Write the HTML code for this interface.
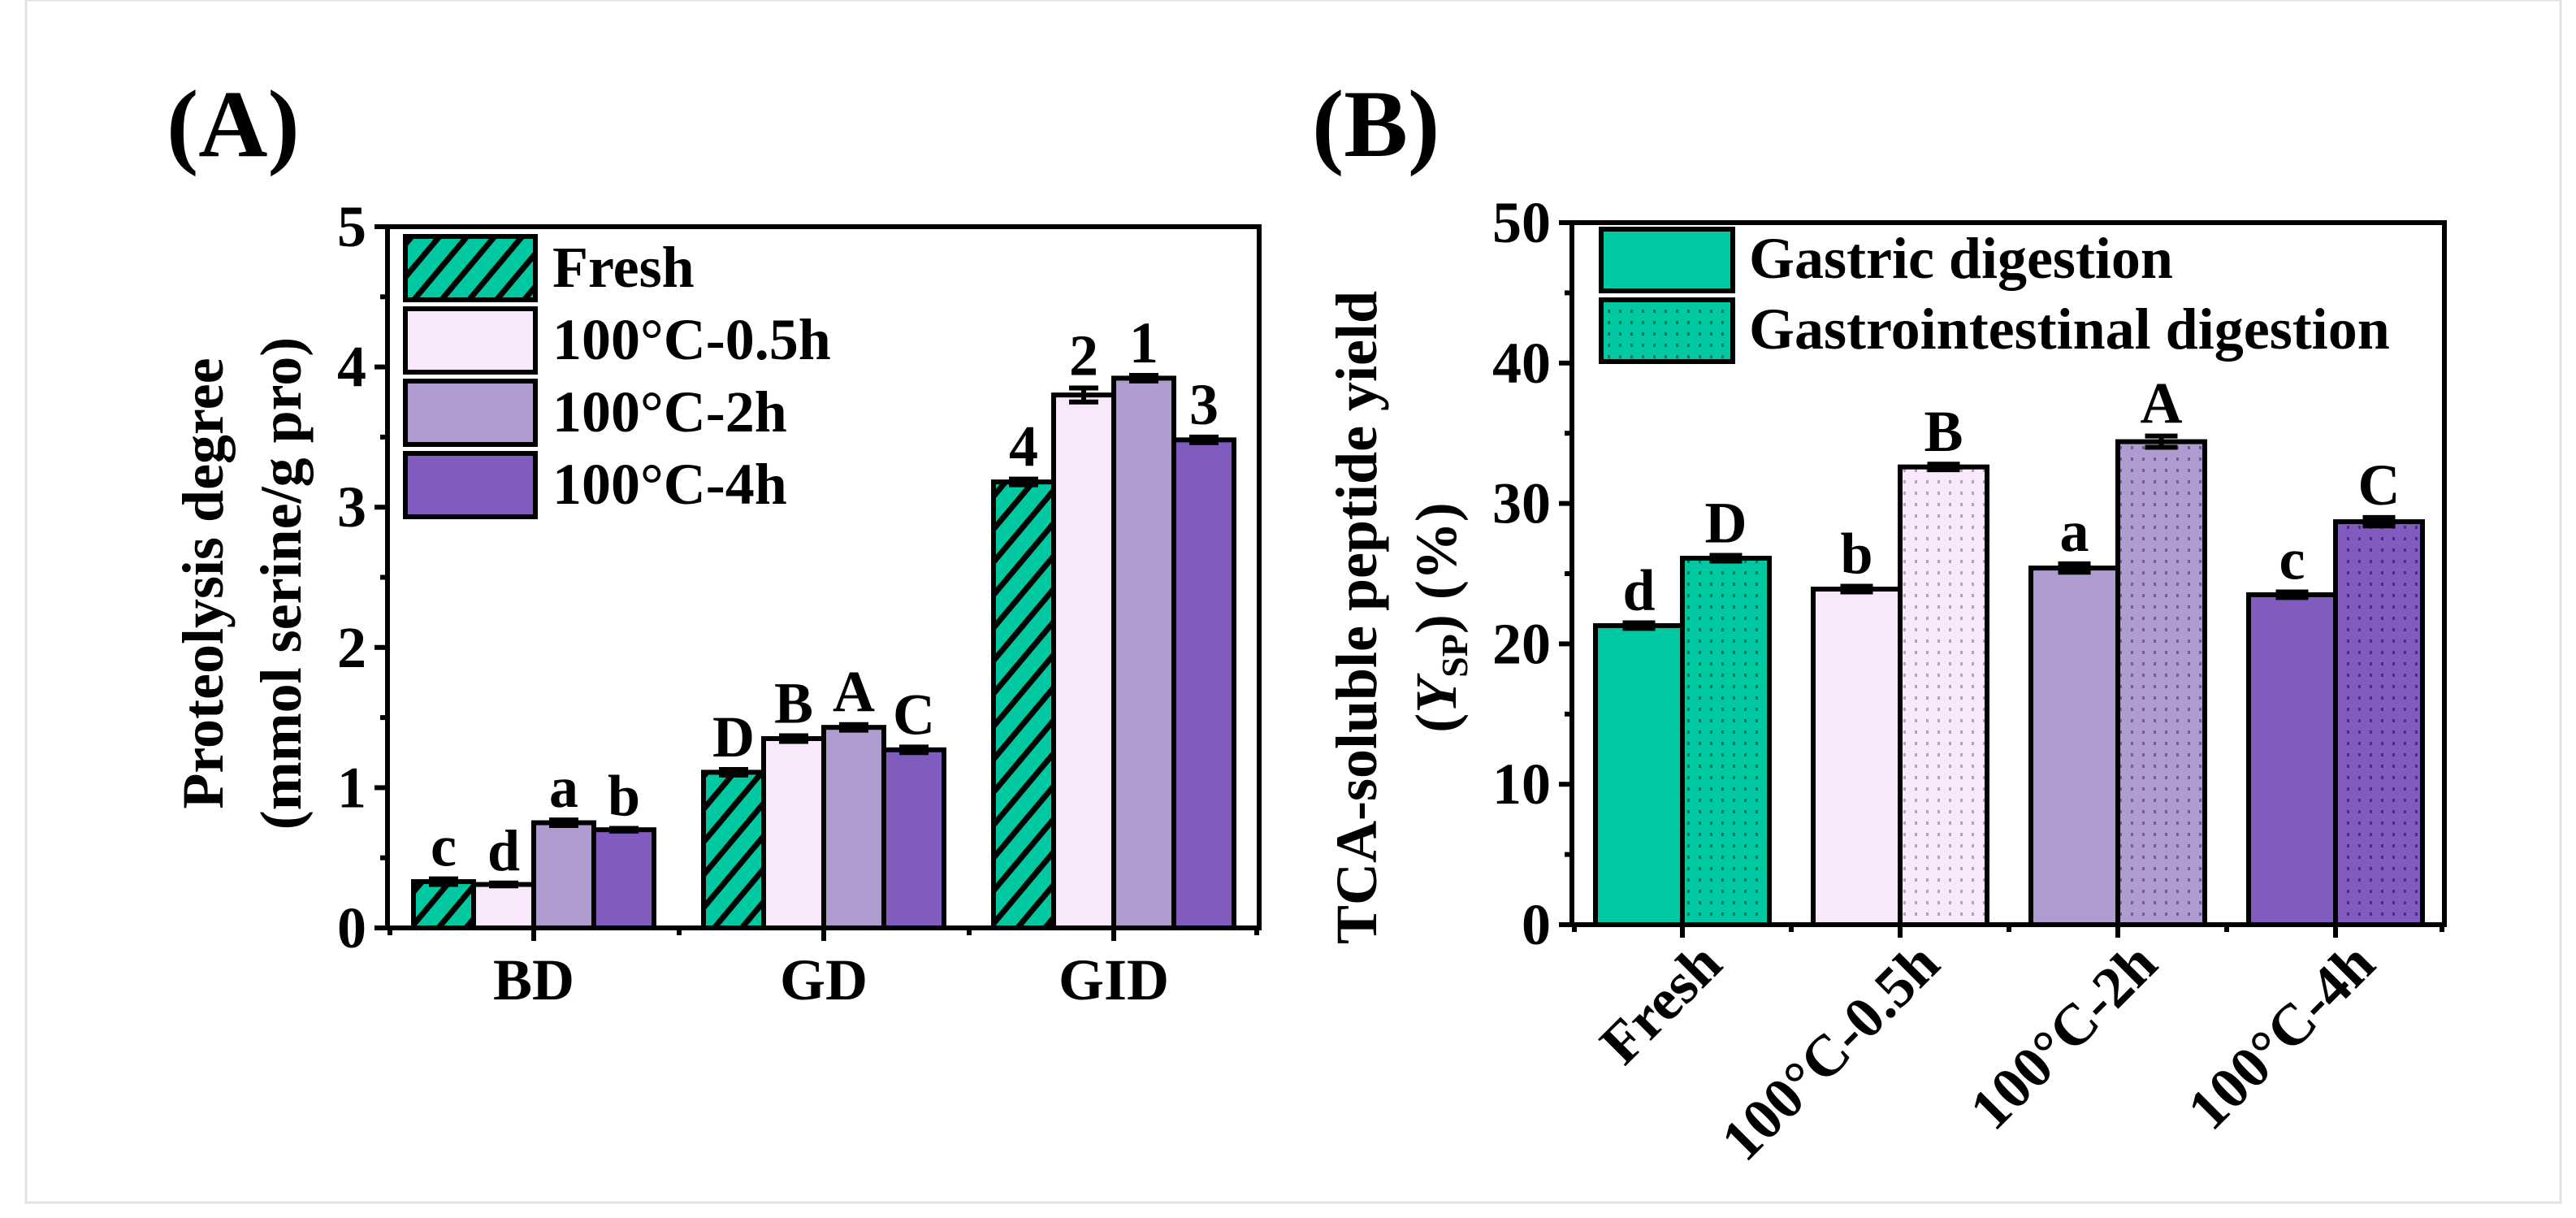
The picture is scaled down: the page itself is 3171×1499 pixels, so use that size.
<!DOCTYPE html>
<html><head><meta charset="utf-8"><style>
html,body{margin:0;padding:0;background:#fff}
svg{display:block}
text{font-family:"Liberation Serif",serif;font-weight:bold;fill:#000}
</style></head><body>
<svg id="fig" width="3171" height="1499" viewBox="0 0 3171 1499">
<defs>
<pattern id="hatch" width="26" height="26" patternUnits="userSpaceOnUse" patternTransform="rotate(40)">
<rect width="26" height="26" fill="#00C8A0"/><rect width="7" height="26" fill="#000"/>
</pattern>
<pattern id="dotT" width="14" height="14" patternUnits="userSpaceOnUse"><rect width="14" height="14" fill="#00C8A0"/><rect x="5" y="3" width="3" height="4" fill="#00705a"/></pattern>
<pattern id="dotP" width="14" height="14" patternUnits="userSpaceOnUse"><rect width="14" height="14" fill="#F9E8FB"/><rect x="5" y="3" width="3" height="4" fill="#b0a0b8"/></pattern>
<pattern id="dotL" width="14" height="14" patternUnits="userSpaceOnUse"><rect width="14" height="14" fill="#B09BD0"/><rect x="5" y="3" width="3" height="4" fill="#6f5f8a"/></pattern>
<pattern id="dotV" width="14" height="14" patternUnits="userSpaceOnUse"><rect width="14" height="14" fill="#805CBF"/><rect x="5" y="3" width="3" height="4" fill="#4a2f7a"/></pattern>
</defs>
<rect x="32" y="0" width="3120" height="1480" fill="none" stroke="#e2e2e2" stroke-width="3"/>
<text x="205" y="192" font-size="118">(A)</text>
<text x="1615" y="192" font-size="118">(B)</text>
<g id="A"></g><g id="B"></g>
</svg>
<script>
const aGroups=["BD","GD","GID"];
const aSeries=["Fresh","100°C-0.5h","100°C-2h","100°C-4h"];
const aFresh=[0.33,1.11,3.18];
const aH05=[0.31,1.35,3.80];
const aH2=[0.75,1.43,3.92];
const aH4=[0.70,1.27,3.48];
const aErr=[[0.02,0.02,0.02],[0.01,0.02,0.05],[0.02,0.02,0.02],[0.01,0.02,0.02]];
const aLetters=[["c","D","4"],["d","B","2"],["a","A","1"],["b","C","3"]];
const aTicks=[0,1,2,3,4,5];
const bCats=["Fresh","100°C-0.5h","100°C-2h","100°C-4h"];
const bGastric=[21.3,23.9,25.4,23.5];
const bGI=[26.1,32.6,34.4,28.7];
const bErrG=[0.2,0.2,0.3,0.2];
const bErrGI=[0.2,0.2,0.4,0.3];
const bLetG=["d","b","a","c"];
const bLetGI=["D","B","A","C"];
const bTicks=[0,10,20,30,40,50];
const NS="http://www.w3.org/2000/svg";
function mk(p,tag,at){const e=document.createElementNS(NS,tag);for(const k in at)e.setAttribute(k,at[k]);p.appendChild(e);return e;}
function txt(p,x,y,s,size,anchor){const t=mk(p,"text",{x:x,y:y,"font-size":size,"text-anchor":anchor||"middle"});t.textContent=s;return t;}

// Panel A
(function(){
const g=document.getElementById("A");
const L=477,R=1550,T=279,B=1142,max=5;
const y=v=>B-(v/max)*(B-T);
const centers=[657,1014,1371],bw=74;
const x=i=>centers[i];
const fills=["url(#hatch)","#F9E8FB","#B09BD0","#805CBF"];
const vals=[aFresh,aH05,aH2,aH4];
vals.forEach((arr,s)=>{arr.forEach((v,i)=>{
 const bx=x(i)-2*bw+s*bw;
 const r=mk(g,"rect",{x:bx,y:y(v),width:bw,height:B-y(v),fill:fills[s],stroke:"#000","stroke-width":6});
 
 
 const e=aErr[s][i];
 const eb=mk(g,"path",{d:`M${bx+bw/2},${y(v+e)}V${y(v-e)}M${bx+bw/2-18},${y(v+e)}h36M${bx+bw/2-18},${y(v-e)}h36`,stroke:"#000","stroke-width":6,fill:"none"});
 
 
 const t=txt(g,bx+bw/2,y(v+e)-16,aLetters[s][i],72);
 
 
});});
const fr=mk(g,"rect",{x:L,y:T,width:R-L,height:B-T,fill:"none",stroke:"#000","stroke-width":6});


aTicks.forEach(v=>{mk(g,"line",{x1:L-16,x2:L,y1:y(v),y2:y(v),stroke:"#000","stroke-width":6});
 const t=txt(g,L-26,y(v)+24,String(v),72,"end");
 
 
 if(v<max)mk(g,"line",{x1:L-9,x2:L,y1:y(v+0.5),y2:y(v+0.5),stroke:"#000","stroke-width":6});});
aGroups.forEach((n,i)=>{mk(g,"line",{x1:x(i),x2:x(i),y1:B,y2:B+16,stroke:"#000","stroke-width":6});
 const t=txt(g,x(i),B+88,n,72);
 
 });
[L+3,836,1193,R-3].forEach(px=>mk(g,"line",{x1:px,x2:px,y1:B,y2:B+9,stroke:"#000","stroke-width":6}));
const yt=mk(g,"text",{x:0,y:0,"font-size":72,"text-anchor":"middle",transform:"translate(274,718) rotate(-90)"});
yt.textContent="Proteolysis degree";


const yt2=mk(g,"text",{x:0,y:0,"font-size":72,"text-anchor":"middle",transform:"translate(370,718) rotate(-90)"});
yt2.textContent="(mmol serine/g pro)";


aSeries.forEach((n,s)=>{const ly=291+s*89;
 const r=mk(g,"rect",{x:499,y:ly,width:160,height:78,fill:fills[s],stroke:"#000","stroke-width":6});
 
 
 const t=txt(g,680,ly+62,n,72,"start");
 
 });
})();

// Panel B
(function(){
const g=document.getElementById("B");
const L=1935,R=3009,T=274,B=1138,max=50;
const y=v=>B-(v/max)*(B-T);
const centers=[2071,2339,2607,2875],bw=107;
const x=i=>centers[i];
const solid=["#00C8A0","#F9E8FB","#B09BD0","#805CBF"];
const pat=["url(#dotT)","url(#dotP)","url(#dotL)","url(#dotV)"];
function bar(bx,v,e,fill,lab,nm){
 const r=mk(g,"rect",{x:bx,y:y(v),width:bw,height:B-y(v),fill:fill,stroke:"#000","stroke-width":6});
 
 
 const eb=mk(g,"path",{d:`M${bx+bw/2},${y(v+e)}V${y(v-e)}M${bx+bw/2-20},${y(v+e)}h40M${bx+bw/2-20},${y(v-e)}h40`,stroke:"#000","stroke-width":6,fill:"none"});
 
 
 const t=txt(g,bx+bw/2,y(v+e)-16,lab,72);
 
 
}
bCats.forEach((c,i)=>{
 bar(x(i)-bw,bGastric[i],bErrG[i],solid[i],bLetG[i],'bar-gastric-'+i);
 bar(x(i),bGI[i],bErrGI[i],pat[i],bLetGI[i],'bar-gi-'+i);
});
const fr=mk(g,"rect",{x:L,y:T,width:R-L,height:B-T,fill:"none",stroke:"#000","stroke-width":6});


bTicks.forEach(v=>{mk(g,"line",{x1:L-16,x2:L,y1:y(v),y2:y(v),stroke:"#000","stroke-width":6});
 const t=txt(g,L-26,y(v)+24,String(v),72,"end");
 
 
 if(v<max)mk(g,"line",{x1:L-9,x2:L,y1:y(v+5),y2:y(v+5),stroke:"#000","stroke-width":6});});
bCats.forEach((n,i)=>{mk(g,"line",{x1:x(i),x2:x(i),y1:B,y2:B+16,stroke:"#000","stroke-width":6});
 const t=mk(g,"text",{x:0,y:0,"font-size":72,"text-anchor":"end",transform:`translate(${x(i)+52},${B+52}) rotate(-45)`});
 t.textContent=n;
 
 });
[L+3,2205,2473,2741,R-3].forEach(px=>mk(g,"line",{x1:px,x2:px,y1:B,y2:B+9,stroke:"#000","stroke-width":6}));
const yt=mk(g,"text",{x:0,y:0,"font-size":72,"text-anchor":"middle",transform:"translate(1694,760) rotate(-90)"});
yt.textContent="TCA-soluble peptide yield";


const yt2=mk(g,"text",{x:0,y:0,"font-size":72,"text-anchor":"middle",transform:"translate(1792,760) rotate(-90)"});
yt2.innerHTML='(<tspan font-style="italic">Y</tspan><tspan font-size="46" dy="14">SP</tspan><tspan dy="-14">) (%)</tspan>';


["Gastric digestion","Gastrointestinal digestion"].forEach((n,s)=>{const ly=282+s*87;
 const r=mk(g,"rect",{x:1971,y:ly,width:162,height:76,fill:s?pat[0]:solid[0],stroke:"#000","stroke-width":6});
 
 
 const t=txt(g,2153,ly+60,n,72,"start");
 
 });
})();
</script>
</body></html>
